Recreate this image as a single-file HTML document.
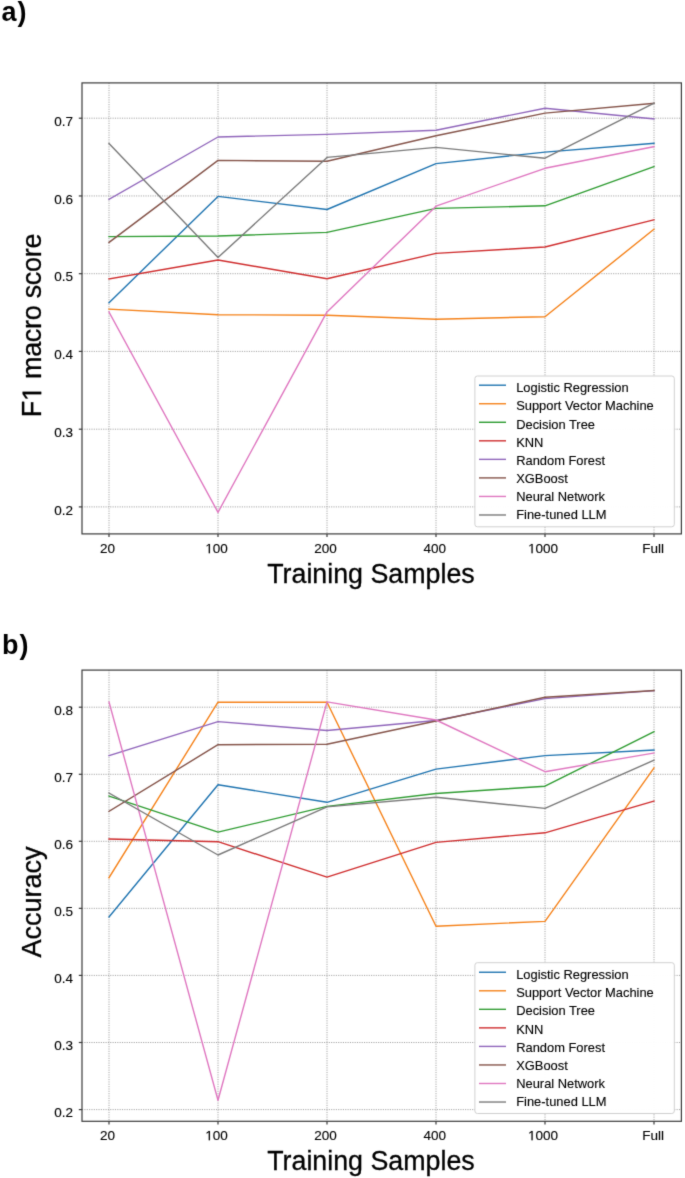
<!DOCTYPE html>
<html><head><meta charset="utf-8"><title>Chart</title>
<style>
html,body{margin:0;padding:0;background:#fff;}
body{width:685px;height:1178px;overflow:hidden;font-family:"Liberation Sans",sans-serif;}
svg{display:block;will-change:transform;}
</style></head>
<body>
<svg width="685" height="1178" viewBox="0 0 685 1178">
<defs><filter id="soft" x="0" y="0" width="1" height="1" color-interpolation-filters="sRGB"><feConvolveMatrix order="3" kernelMatrix="0.02 0.08 0.02 0.08 0.6 0.08 0.02 0.08 0.02" preserveAlpha="false"/></filter></defs>
<g filter="url(#soft)">
<rect width="685" height="1178" fill="#fff"/>
<text x="1.6" y="21.3" font-size="27" font-weight="bold" letter-spacing="0.8" font-family="Liberation Sans, sans-serif" fill="#000">a)</text>
<text x="1.9" y="654" font-size="27" font-weight="bold" letter-spacing="1" font-family="Liberation Sans, sans-serif" fill="#000">b)</text>
<line x1="82.0" y1="118.2" x2="681.4" y2="118.2" stroke="#a4a4a4" stroke-width="1" stroke-dasharray="1.15 1.2"/>
<line x1="82.0" y1="195.95" x2="681.4" y2="195.95" stroke="#a4a4a4" stroke-width="1" stroke-dasharray="1.15 1.2"/>
<line x1="82.0" y1="273.7" x2="681.4" y2="273.7" stroke="#a4a4a4" stroke-width="1" stroke-dasharray="1.15 1.2"/>
<line x1="82.0" y1="351.4" x2="681.4" y2="351.4" stroke="#a4a4a4" stroke-width="1" stroke-dasharray="1.15 1.2"/>
<line x1="82.0" y1="429.2" x2="681.4" y2="429.2" stroke="#a4a4a4" stroke-width="1" stroke-dasharray="1.15 1.2"/>
<line x1="82.0" y1="506.9" x2="681.4" y2="506.9" stroke="#a4a4a4" stroke-width="1" stroke-dasharray="1.15 1.2"/>
<line x1="109" y1="82.9" x2="109" y2="533.9" stroke="#a4a4a4" stroke-width="1" stroke-dasharray="1.15 1.2"/>
<line x1="218" y1="82.9" x2="218" y2="533.9" stroke="#a4a4a4" stroke-width="1" stroke-dasharray="1.15 1.2"/>
<line x1="327" y1="82.9" x2="327" y2="533.9" stroke="#a4a4a4" stroke-width="1" stroke-dasharray="1.15 1.2"/>
<line x1="436" y1="82.9" x2="436" y2="533.9" stroke="#a4a4a4" stroke-width="1" stroke-dasharray="1.15 1.2"/>
<line x1="545" y1="82.9" x2="545" y2="533.9" stroke="#a4a4a4" stroke-width="1" stroke-dasharray="1.15 1.2"/>
<line x1="654" y1="82.9" x2="654" y2="533.9" stroke="#a4a4a4" stroke-width="1" stroke-dasharray="1.15 1.2"/>
<polyline points="109,302.7 218,196.4 327,209.5 436,163.6 545,152.1 654,143.3" fill="none" stroke="#1f74b0" stroke-width="1.4" stroke-linejoin="round" stroke-linecap="square"/>
<polyline points="109,309.1 218,314.7 327,315.2 436,319.2 545,316.7 654,229.2" fill="none" stroke="#f5821a" stroke-width="1.4" stroke-linejoin="round" stroke-linecap="square"/>
<polyline points="109,236.6 218,236.0 327,232.4 436,208.4 545,205.8 654,166.7" fill="none" stroke="#2f9c32" stroke-width="1.4" stroke-linejoin="round" stroke-linecap="square"/>
<polyline points="109,278.9 218,260.0 327,278.7 436,253.4 545,247.0 654,219.8" fill="none" stroke="#cf2d2e" stroke-width="1.4" stroke-linejoin="round" stroke-linecap="square"/>
<polyline points="109,199.3 218,137.0 327,134.4 436,130.2 545,108.2 654,118.9" fill="none" stroke="#9066bb" stroke-width="1.4" stroke-linejoin="round" stroke-linecap="square"/>
<polyline points="109,242.4 218,160.4 327,161.3 436,135.8 545,113.1 654,103.3" fill="none" stroke="#85544a" stroke-width="1.4" stroke-linejoin="round" stroke-linecap="square"/>
<polyline points="109,312.0 218,512.3 327,311.9 436,206.2 545,168.3 654,146.6" fill="none" stroke="#df77c0" stroke-width="1.4" stroke-linejoin="round" stroke-linecap="square"/>
<polyline points="109,143.6 218,257.5 327,157.4 436,147.4 545,158.2 654,103.3" fill="none" stroke="#7a7a7a" stroke-width="1.4" stroke-linejoin="round" stroke-linecap="square"/>
<rect x="82.0" y="82.9" width="599.4" height="451.0" fill="none" stroke="#3a3a3a" stroke-width="1.2"/>
<line x1="78.8" y1="118.2" x2="82.0" y2="118.2" stroke="#3a3a3a" stroke-width="1.2"/>
<text x="73" y="125.8" text-anchor="end" font-size="13.5" font-family="Liberation Sans, sans-serif" fill="#000" stroke="#000" stroke-width="0.12">0.7</text>
<line x1="78.8" y1="195.95" x2="82.0" y2="195.95" stroke="#3a3a3a" stroke-width="1.2"/>
<text x="73" y="203.5" text-anchor="end" font-size="13.5" font-family="Liberation Sans, sans-serif" fill="#000" stroke="#000" stroke-width="0.12">0.6</text>
<line x1="78.8" y1="273.7" x2="82.0" y2="273.7" stroke="#3a3a3a" stroke-width="1.2"/>
<text x="73" y="281.3" text-anchor="end" font-size="13.5" font-family="Liberation Sans, sans-serif" fill="#000" stroke="#000" stroke-width="0.12">0.5</text>
<line x1="78.8" y1="351.4" x2="82.0" y2="351.4" stroke="#3a3a3a" stroke-width="1.2"/>
<text x="73" y="359.0" text-anchor="end" font-size="13.5" font-family="Liberation Sans, sans-serif" fill="#000" stroke="#000" stroke-width="0.12">0.4</text>
<line x1="78.8" y1="429.2" x2="82.0" y2="429.2" stroke="#3a3a3a" stroke-width="1.2"/>
<text x="73" y="436.8" text-anchor="end" font-size="13.5" font-family="Liberation Sans, sans-serif" fill="#000" stroke="#000" stroke-width="0.12">0.3</text>
<line x1="78.8" y1="506.9" x2="82.0" y2="506.9" stroke="#3a3a3a" stroke-width="1.2"/>
<text x="73" y="514.5" text-anchor="end" font-size="13.5" font-family="Liberation Sans, sans-serif" fill="#000" stroke="#000" stroke-width="0.12">0.2</text>
<line x1="109" y1="533.9" x2="109" y2="537.1" stroke="#3a3a3a" stroke-width="1.2"/>
<text x="107.6" y="553.2" text-anchor="middle" font-size="13.5" font-family="Liberation Sans, sans-serif" fill="#000" stroke="#000" stroke-width="0.12">20</text>
<line x1="218" y1="533.9" x2="218" y2="537.1" stroke="#3a3a3a" stroke-width="1.2"/>
<text id="tx1" x="216.6" y="553.2" text-anchor="middle" font-size="13.5" font-family="Liberation Sans, sans-serif" fill="#000" stroke="#000" stroke-width="0.12"> 00</text><path d="M515 0L515 1237L197 1010L197 1180L530 1409L696 1409L696 0Z" transform="translate(205.334,553.200) scale(0.006592,-0.006592)" fill="#000" stroke="#000" stroke-width="18.2"/>
<line x1="327" y1="533.9" x2="327" y2="537.1" stroke="#3a3a3a" stroke-width="1.2"/>
<text x="325.6" y="553.2" text-anchor="middle" font-size="13.5" font-family="Liberation Sans, sans-serif" fill="#000" stroke="#000" stroke-width="0.12">200</text>
<line x1="436" y1="533.9" x2="436" y2="537.1" stroke="#3a3a3a" stroke-width="1.2"/>
<text x="434.8" y="553.2" text-anchor="middle" font-size="13.5" font-family="Liberation Sans, sans-serif" fill="#000" stroke="#000" stroke-width="0.12">400</text>
<line x1="545" y1="533.9" x2="545" y2="537.1" stroke="#3a3a3a" stroke-width="1.2"/>
<text id="tx4" x="543.1" y="553.2" text-anchor="middle" font-size="13.5" font-family="Liberation Sans, sans-serif" fill="#000" stroke="#000" stroke-width="0.12"> 000</text><path d="M515 0L515 1237L197 1010L197 1180L530 1409L696 1409L696 0Z" transform="translate(528.077,553.200) scale(0.006592,-0.006592)" fill="#000" stroke="#000" stroke-width="18.2"/>
<line x1="654" y1="533.9" x2="654" y2="537.1" stroke="#3a3a3a" stroke-width="1.2"/>
<text x="653.2" y="553.2" text-anchor="middle" font-size="13.5" font-family="Liberation Sans, sans-serif" fill="#000" stroke="#000" stroke-width="0.12">Full</text>
<text x="267.2" y="583" font-size="26.8" font-family="Liberation Sans, sans-serif" fill="#000" stroke="#000" stroke-width="0.3">Training Samples</text>
<text id="tx6" transform="translate(41.2,325.5) rotate(-90)" x="0" y="0" text-anchor="middle" font-size="27" letter-spacing="-0.3" font-family="Liberation Sans, sans-serif" fill="#000" stroke="#000" stroke-width="0.3">F  macro score</text><path d="M515 0L515 1237L197 1010L197 1180L530 1409L696 1409L696 0Z" transform="translate(41.2,325.5) rotate(-90) translate(-75.492,0.000) scale(0.013184,-0.013184)" fill="#000" stroke="#000" stroke-width="22.8"/>
<rect x="474.9" y="376.0" width="199.4" height="150.8" rx="2.5" ry="2.5" fill="#fff" fill-opacity="0.97" stroke="#d0d0d0" stroke-width="1"/>
<line x1="479" y1="385.20" x2="506" y2="385.20" stroke="#1f74b0" stroke-width="1.4"/>
<text x="516.2" y="392.30" font-size="12.9" font-family="Liberation Sans, sans-serif" fill="#000" stroke="#000" stroke-width="0.12">Logistic Regression</text>
<line x1="479" y1="403.74" x2="506" y2="403.74" stroke="#f5821a" stroke-width="1.4"/>
<text x="516.2" y="410.40" font-size="12.9" font-family="Liberation Sans, sans-serif" fill="#000" stroke="#000" stroke-width="0.12">Support Vector Machine</text>
<line x1="479" y1="422.28" x2="506" y2="422.28" stroke="#2f9c32" stroke-width="1.4"/>
<text x="516.2" y="428.50" font-size="12.9" font-family="Liberation Sans, sans-serif" fill="#000" stroke="#000" stroke-width="0.12">Decision Tree</text>
<line x1="479" y1="440.82" x2="506" y2="440.82" stroke="#cf2d2e" stroke-width="1.4"/>
<text x="516.2" y="446.60" font-size="12.9" font-family="Liberation Sans, sans-serif" fill="#000" stroke="#000" stroke-width="0.12">KNN</text>
<line x1="479" y1="459.36" x2="506" y2="459.36" stroke="#9066bb" stroke-width="1.4"/>
<text x="516.2" y="464.70" font-size="12.9" font-family="Liberation Sans, sans-serif" fill="#000" stroke="#000" stroke-width="0.12">Random Forest</text>
<line x1="479" y1="477.90" x2="506" y2="477.90" stroke="#85544a" stroke-width="1.4"/>
<text x="516.2" y="482.80" font-size="12.9" font-family="Liberation Sans, sans-serif" fill="#000" stroke="#000" stroke-width="0.12">XGBoost</text>
<line x1="479" y1="496.44" x2="506" y2="496.44" stroke="#df77c0" stroke-width="1.4"/>
<text x="516.2" y="500.90" font-size="12.9" font-family="Liberation Sans, sans-serif" fill="#000" stroke="#000" stroke-width="0.12">Neural Network</text>
<line x1="479" y1="514.98" x2="506" y2="514.98" stroke="#7a7a7a" stroke-width="1.4"/>
<text x="516.2" y="519.00" font-size="12.9" font-family="Liberation Sans, sans-serif" fill="#000" stroke="#000" stroke-width="0.12">Fine-tuned LLM</text>
<line x1="82.0" y1="707.2" x2="681.4" y2="707.2" stroke="#a4a4a4" stroke-width="1" stroke-dasharray="1.15 1.2"/>
<line x1="82.0" y1="774.3" x2="681.4" y2="774.3" stroke="#a4a4a4" stroke-width="1" stroke-dasharray="1.15 1.2"/>
<line x1="82.0" y1="841.3" x2="681.4" y2="841.3" stroke="#a4a4a4" stroke-width="1" stroke-dasharray="1.15 1.2"/>
<line x1="82.0" y1="908.35" x2="681.4" y2="908.35" stroke="#a4a4a4" stroke-width="1" stroke-dasharray="1.15 1.2"/>
<line x1="82.0" y1="975.4" x2="681.4" y2="975.4" stroke="#a4a4a4" stroke-width="1" stroke-dasharray="1.15 1.2"/>
<line x1="82.0" y1="1042.5" x2="681.4" y2="1042.5" stroke="#a4a4a4" stroke-width="1" stroke-dasharray="1.15 1.2"/>
<line x1="82.0" y1="1109.6" x2="681.4" y2="1109.6" stroke="#a4a4a4" stroke-width="1" stroke-dasharray="1.15 1.2"/>
<line x1="109" y1="670.1" x2="109" y2="1121.3" stroke="#a4a4a4" stroke-width="1" stroke-dasharray="1.15 1.2"/>
<line x1="218" y1="670.1" x2="218" y2="1121.3" stroke="#a4a4a4" stroke-width="1" stroke-dasharray="1.15 1.2"/>
<line x1="327" y1="670.1" x2="327" y2="1121.3" stroke="#a4a4a4" stroke-width="1" stroke-dasharray="1.15 1.2"/>
<line x1="436" y1="670.1" x2="436" y2="1121.3" stroke="#a4a4a4" stroke-width="1" stroke-dasharray="1.15 1.2"/>
<line x1="545" y1="670.1" x2="545" y2="1121.3" stroke="#a4a4a4" stroke-width="1" stroke-dasharray="1.15 1.2"/>
<line x1="654" y1="670.1" x2="654" y2="1121.3" stroke="#a4a4a4" stroke-width="1" stroke-dasharray="1.15 1.2"/>
<polyline points="109,916.9 218,784.7 327,802.3 436,769.1 545,755.6 654,750.0" fill="none" stroke="#1f74b0" stroke-width="1.4" stroke-linejoin="round" stroke-linecap="square"/>
<polyline points="109,877.7 218,702.2 327,702.2 436,926.2 545,921.4 654,767.9" fill="none" stroke="#f5821a" stroke-width="1.4" stroke-linejoin="round" stroke-linecap="square"/>
<polyline points="109,796.1 218,832.1 327,806.4 436,793.5 545,786.2 654,731.7" fill="none" stroke="#2f9c32" stroke-width="1.4" stroke-linejoin="round" stroke-linecap="square"/>
<polyline points="109,839.0 218,841.7 327,877.2 436,842.4 545,832.8 654,801.0" fill="none" stroke="#cf2d2e" stroke-width="1.4" stroke-linejoin="round" stroke-linecap="square"/>
<polyline points="109,755.7 218,721.6 327,730.5 436,720.5 545,698.6 654,690.7" fill="none" stroke="#9066bb" stroke-width="1.4" stroke-linejoin="round" stroke-linecap="square"/>
<polyline points="109,811.4 218,744.7 327,744.2 436,721.0 545,697.3 654,690.5" fill="none" stroke="#85544a" stroke-width="1.4" stroke-linejoin="round" stroke-linecap="square"/>
<polyline points="109,702.0 218,1100.3 327,701.9 436,720.0 545,771.7 654,753.0" fill="none" stroke="#df77c0" stroke-width="1.4" stroke-linejoin="round" stroke-linecap="square"/>
<polyline points="109,793.0 218,855.0 327,806.9 436,797.3 545,808.4 654,760.2" fill="none" stroke="#7a7a7a" stroke-width="1.4" stroke-linejoin="round" stroke-linecap="square"/>
<rect x="82.0" y="670.1" width="599.4" height="451.19999999999993" fill="none" stroke="#3a3a3a" stroke-width="1.2"/>
<line x1="78.8" y1="707.2" x2="82.0" y2="707.2" stroke="#3a3a3a" stroke-width="1.2"/>
<text x="73" y="714.8" text-anchor="end" font-size="13.5" font-family="Liberation Sans, sans-serif" fill="#000" stroke="#000" stroke-width="0.12">0.8</text>
<line x1="78.8" y1="774.3" x2="82.0" y2="774.3" stroke="#3a3a3a" stroke-width="1.2"/>
<text x="73" y="781.9" text-anchor="end" font-size="13.5" font-family="Liberation Sans, sans-serif" fill="#000" stroke="#000" stroke-width="0.12">0.7</text>
<line x1="78.8" y1="841.3" x2="82.0" y2="841.3" stroke="#3a3a3a" stroke-width="1.2"/>
<text x="73" y="848.9" text-anchor="end" font-size="13.5" font-family="Liberation Sans, sans-serif" fill="#000" stroke="#000" stroke-width="0.12">0.6</text>
<line x1="78.8" y1="908.35" x2="82.0" y2="908.35" stroke="#3a3a3a" stroke-width="1.2"/>
<text x="73" y="916.0" text-anchor="end" font-size="13.5" font-family="Liberation Sans, sans-serif" fill="#000" stroke="#000" stroke-width="0.12">0.5</text>
<line x1="78.8" y1="975.4" x2="82.0" y2="975.4" stroke="#3a3a3a" stroke-width="1.2"/>
<text x="73" y="983.0" text-anchor="end" font-size="13.5" font-family="Liberation Sans, sans-serif" fill="#000" stroke="#000" stroke-width="0.12">0.4</text>
<line x1="78.8" y1="1042.5" x2="82.0" y2="1042.5" stroke="#3a3a3a" stroke-width="1.2"/>
<text x="73" y="1050.1" text-anchor="end" font-size="13.5" font-family="Liberation Sans, sans-serif" fill="#000" stroke="#000" stroke-width="0.12">0.3</text>
<line x1="78.8" y1="1109.6" x2="82.0" y2="1109.6" stroke="#3a3a3a" stroke-width="1.2"/>
<text x="73" y="1117.2" text-anchor="end" font-size="13.5" font-family="Liberation Sans, sans-serif" fill="#000" stroke="#000" stroke-width="0.12">0.2</text>
<line x1="109" y1="1121.3" x2="109" y2="1124.5" stroke="#3a3a3a" stroke-width="1.2"/>
<text x="107.6" y="1140.3" text-anchor="middle" font-size="13.5" font-family="Liberation Sans, sans-serif" fill="#000" stroke="#000" stroke-width="0.12">20</text>
<line x1="218" y1="1121.3" x2="218" y2="1124.5" stroke="#3a3a3a" stroke-width="1.2"/>
<text id="tx8" x="216.6" y="1140.3" text-anchor="middle" font-size="13.5" font-family="Liberation Sans, sans-serif" fill="#000" stroke="#000" stroke-width="0.12"> 00</text><path d="M515 0L515 1237L197 1010L197 1180L530 1409L696 1409L696 0Z" transform="translate(205.334,1140.300) scale(0.006592,-0.006592)" fill="#000" stroke="#000" stroke-width="18.2"/>
<line x1="327" y1="1121.3" x2="327" y2="1124.5" stroke="#3a3a3a" stroke-width="1.2"/>
<text x="325.6" y="1140.3" text-anchor="middle" font-size="13.5" font-family="Liberation Sans, sans-serif" fill="#000" stroke="#000" stroke-width="0.12">200</text>
<line x1="436" y1="1121.3" x2="436" y2="1124.5" stroke="#3a3a3a" stroke-width="1.2"/>
<text x="434.8" y="1140.3" text-anchor="middle" font-size="13.5" font-family="Liberation Sans, sans-serif" fill="#000" stroke="#000" stroke-width="0.12">400</text>
<line x1="545" y1="1121.3" x2="545" y2="1124.5" stroke="#3a3a3a" stroke-width="1.2"/>
<text id="tx11" x="543.1" y="1140.3" text-anchor="middle" font-size="13.5" font-family="Liberation Sans, sans-serif" fill="#000" stroke="#000" stroke-width="0.12"> 000</text><path d="M515 0L515 1237L197 1010L197 1180L530 1409L696 1409L696 0Z" transform="translate(528.077,1140.300) scale(0.006592,-0.006592)" fill="#000" stroke="#000" stroke-width="18.2"/>
<line x1="654" y1="1121.3" x2="654" y2="1124.5" stroke="#3a3a3a" stroke-width="1.2"/>
<text x="653.2" y="1140.3" text-anchor="middle" font-size="13.5" font-family="Liberation Sans, sans-serif" fill="#000" stroke="#000" stroke-width="0.12">Full</text>
<text x="267.2" y="1170.1" font-size="26.8" font-family="Liberation Sans, sans-serif" fill="#000" stroke="#000" stroke-width="0.3">Training Samples</text>
<text transform="translate(41.2,902.1) rotate(-90)" x="0" y="0" text-anchor="middle" font-size="27" letter-spacing="0" font-family="Liberation Sans, sans-serif" fill="#000" stroke="#000" stroke-width="0.3">Accuracy</text>
<rect x="474.9" y="962.7" width="199.4" height="150.8" rx="2.5" ry="2.5" fill="#fff" fill-opacity="0.97" stroke="#d0d0d0" stroke-width="1"/>
<line x1="479" y1="972.25" x2="506" y2="972.25" stroke="#1f74b0" stroke-width="1.4"/>
<text x="516.2" y="979.20" font-size="12.9" font-family="Liberation Sans, sans-serif" fill="#000" stroke="#000" stroke-width="0.12">Logistic Regression</text>
<line x1="479" y1="990.79" x2="506" y2="990.79" stroke="#f5821a" stroke-width="1.4"/>
<text x="516.2" y="997.30" font-size="12.9" font-family="Liberation Sans, sans-serif" fill="#000" stroke="#000" stroke-width="0.12">Support Vector Machine</text>
<line x1="479" y1="1009.33" x2="506" y2="1009.33" stroke="#2f9c32" stroke-width="1.4"/>
<text x="516.2" y="1015.40" font-size="12.9" font-family="Liberation Sans, sans-serif" fill="#000" stroke="#000" stroke-width="0.12">Decision Tree</text>
<line x1="479" y1="1027.87" x2="506" y2="1027.87" stroke="#cf2d2e" stroke-width="1.4"/>
<text x="516.2" y="1033.50" font-size="12.9" font-family="Liberation Sans, sans-serif" fill="#000" stroke="#000" stroke-width="0.12">KNN</text>
<line x1="479" y1="1046.41" x2="506" y2="1046.41" stroke="#9066bb" stroke-width="1.4"/>
<text x="516.2" y="1051.60" font-size="12.9" font-family="Liberation Sans, sans-serif" fill="#000" stroke="#000" stroke-width="0.12">Random Forest</text>
<line x1="479" y1="1064.95" x2="506" y2="1064.95" stroke="#85544a" stroke-width="1.4"/>
<text x="516.2" y="1069.70" font-size="12.9" font-family="Liberation Sans, sans-serif" fill="#000" stroke="#000" stroke-width="0.12">XGBoost</text>
<line x1="479" y1="1083.49" x2="506" y2="1083.49" stroke="#df77c0" stroke-width="1.4"/>
<text x="516.2" y="1087.80" font-size="12.9" font-family="Liberation Sans, sans-serif" fill="#000" stroke="#000" stroke-width="0.12">Neural Network</text>
<line x1="479" y1="1102.03" x2="506" y2="1102.03" stroke="#7a7a7a" stroke-width="1.4"/>
<text x="516.2" y="1105.90" font-size="12.9" font-family="Liberation Sans, sans-serif" fill="#000" stroke="#000" stroke-width="0.12">Fine-tuned LLM</text>
</g>
</svg>
</body></html>
